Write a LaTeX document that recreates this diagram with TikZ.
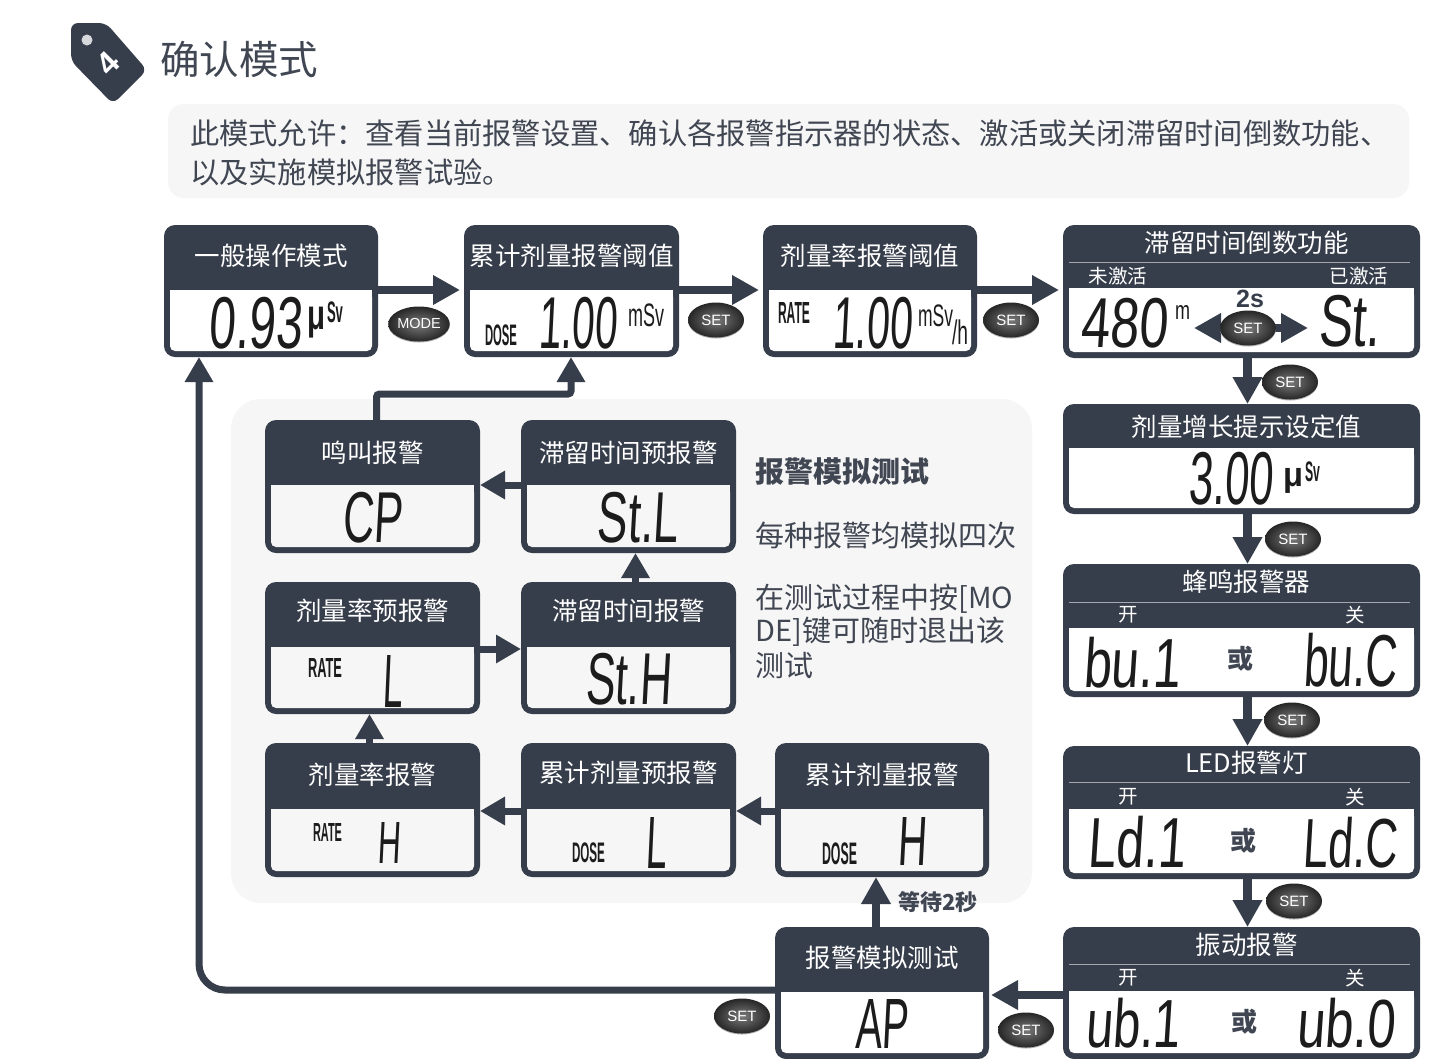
\documentclass[tikz,border=0pt]{standalone}
\usepackage{fontspec}
\usepackage{graphicx}
\usetikzlibrary{arrows.meta,shapes.geometric,calc}
\setmainfont{Noto Sans CJK SC}
\newfontfamily\latfont{Liberation Sans}
\newfontfamily\lcdfont[FakeSlant=0.09]{Liberation Sans}
\definecolor{dark}{HTML}{373E4B}
\definecolor{panel}{HTML}{F6F6F6}
\definecolor{ink}{HTML}{404652}
\definecolor{lcdink}{HTML}{1C1C1C}
\newcommand{\fs}[1]{\fontsize{#1}{#1}\selectfont}
\newcounter{lcdn}
\def\tshift{0}
\tikzset{
  cardbody/.style={fill=dark,draw=none,rounded corners=11pt,inner sep=0pt,outer sep=0pt},
  cardscreen/.style={draw=none,inner sep=0pt,outer sep=0pt},
  cardtitle/.style={text=white,inner sep=0pt,font=\fs{25.5}},
  sublabel/.style={text=white,inner sep=0pt,font=\fs{19.5}},
  orword/.style={text=ink,inner sep=0pt,font=\fs{26}\bfseries},
  sideword/.style={text=ink,inner sep=0pt,anchor=west,font=\fs{29}},
  arr/.style={draw=dark,line width=8.5pt,-{Triangle[length=27pt,width=28pt]},shorten >=4pt},
  arrthin/.style={draw=dark,line width=7pt,-{Triangle[length=25pt,width=27pt]}},
  btnshape/.style={ellipse,inner sep=0pt,minimum width=56pt,minimum height=35pt,
     inner color=black!52,outer color=black!85,text=white,
     preaction={fill=black!30,transform canvas={yshift=-1pt}}},
  sepline/.style={draw=white!55!dark,line width=1pt}
}
% name x0 x1 y0 split y1 title titley fill
\newcommand{\card}[9]{%
  \pgfmathsetmacro{\cw}{#3-#2}\pgfmathsetmacro{\ch}{#6-#4}%
  \pgfmathsetmacro{\cx}{(#2+#3)/2}\pgfmathsetmacro{\cy}{(#4+#6)/2}%
  \node[cardbody,minimum width=\cw pt,minimum height=\ch pt] (#1) at (\cx,\cy) {};%
  \pgfmathsetmacro{\sw}{\cw-12}\pgfmathsetmacro{\sh}{#6-6-#5}%
  \pgfmathsetmacro{\sy}{(#5+#6-6)/2}%
  \pgfmathsetmacro{\ax}{#2+6}\pgfmathsetmacro{\bx}{#3-6}\pgfmathsetmacro{\ty}{#5+2}\pgfmathsetmacro{\by}{#6-6}\pgfmathsetmacro{\my}{#6-14}%
  \pgfmathsetmacro{\tx}{\cx+\tshift}%
  \fill[#9,rounded corners=5pt] (\ax,\ty) rectangle (\bx,\by);%
  \fill[#9] (\ax,#5) rectangle (\bx,\my);%
  \node[cardscreen,minimum width=\sw pt,minimum height=\sh pt] (#1-scr) at (\cx,\sy) {};%
  \node[cardtitle] (#1-t) at (\tx,#8) {#7};%
}
% x0 x1 y0 y1 font text
\newcommand{\fit}[6]{%
  \stepcounter{lcdn}%
  \pgfmathsetmacro{\fw}{#2-#1}\pgfmathsetmacro{\fh}{#4-#3}%
  \pgfmathsetmacro{\fx}{(#1+#2)/2}\pgfmathsetmacro{\fy}{(#3+#4)/2}%
  \node[inner sep=0pt,text=lcdink] (lcd\arabic{lcdn}) at (\fx,\fy) {\resizebox*{\fw pt}{\fh pt}{#5#6}};%
}
\newcommand{\lcd}[5]{\fit{#1}{#2}{#3}{#4}{\lcdfont}{#5}}
\newcommand{\sml}[5]{\fit{#1}{#2}{#3}{#4}{\latfont\bfseries}{#5}}
\newcommand{\unit}[5]{\fit{#1}{#2}{#3}{#4}{\latfont}{#5}}
\newcommand{\btn}[4]{\node[btnshape] (#1) at (#2,#3) {\latfont\fs{15}#4};}
\begin{document}
\begin{tikzpicture}[x=1pt,y=-1pt]
\useasboundingbox (0,0) rectangle (1445,1058);
\fill[white] (0,0) rectangle (1445,1058);

% heading tag
\fill[dark,rounded corners=7pt] (71,23) -- (106,23) -- (147,70) -- (113,104) -- (71,61) -- cycle;
\fill[white!80!dark] (87,40) circle (5.5);
\node[text=white,inner sep=0pt,rotate=45,font=\latfont\bfseries\fs{32}] (tagnum) at (108,63) {4};
\node[text=ink,inner sep=0pt,anchor=west,font=\fs{39.5}] (head) at (160,59) {确认模式};

% description
\fill[panel,rounded corners=16pt] (168,104) rectangle (1409,198);
\node[text=ink,inner sep=0pt,anchor=west,font=\fs{29.25}] (desc1) at (190,133) {此模式允许：查看当前报警设置、确认各报警指示器的状态、激活或关闭滞留时间倒数功能、};
\node[text=ink,inner sep=0pt,anchor=west,font=\fs{29.25}] (desc2) at (190,172) {以及实施模拟报警试验。};

% alarm test panel
\fill[panel,rounded corners=30pt] (231,399) rectangle (1032,903);

% cards
\card{A}{164}{378}{225}{290}{357}{一般操作模式}{256}{white}
\card{B}{464}{679}{225}{290}{357}{累计剂量报警阈值}{256}{white}
\card{C}{763}{977}{225}{290}{357}{剂量率报警阈值}{256}{white}
\def\tshift{5}
\card{D}{1063}{1420}{225}{288}{358}{滞留时间倒数功能}{243}{white}
\card{E}{1063}{1420}{404}{448}{514}{剂量增长提示设定值}{427}{white}
\card{F}{1063}{1420}{564}{628}{697}{蜂鸣报警器}{582}{white}
\card{G}{1063}{1420}{746}{809}{879}{LED报警灯}{763}{white}
\card{H}{1063}{1420}{927}{991}{1059}{振动报警}{945}{white}
\def\tshift{0}
\card{AP}{775}{989}{927}{992}{1059}{报警模拟测试}{958}{white}
\card{CP}{265}{480}{420}{485}{553}{鸣叫报警}{453}{panel}
\card{StL}{521}{736}{420}{485}{553}{滞留时间预报警}{453}{panel}
\card{RL}{265}{480}{582}{647}{714}{剂量率预报警}{611}{panel}
\card{StH}{521}{736}{582}{647}{714}{滞留时间报警}{611}{panel}
\card{RH}{265}{480}{743}{809}{877}{剂量率报警}{775}{panel}
\card{DL}{521}{736}{743}{809}{877}{累计剂量预报警}{773}{panel}
\card{DH}{775}{989}{743}{809}{877}{累计剂量报警}{775}{panel}

% separators and sub labels
\foreach \yy in {262,602,782,964} \draw[sepline] (1069,\yy) -- (1410,\yy);
\node[sublabel] (d-off) at (1118,276) {未激活};
\node[sublabel] (d-on) at (1359,276) {已激活};
\node[sublabel] (f-on) at (1128,615) {开};
\node[sublabel] (f-off) at (1355,615) {关};
\node[sublabel] (g-on) at (1128,797) {开};
\node[sublabel] (g-off) at (1355,797) {关};
\node[sublabel] (h-on) at (1128,978) {开};
\node[sublabel] (h-off) at (1355,978) {关};

% displays
\lcd{209}{302}{297}{349}{0.93}
\sml{307}{325}{307}{338}{μ}
\sml{327}{343}{302}{323}{Sv}
\sml{485}{517}{325}{346}{DOSE}
\lcd{538}{617}{297}{349}{1.00}
\unit{628}{664}{304}{327}{mSv}
\sml{778}{810}{302}{323}{RATE}
\lcd{832}{912}{297}{349}{1.00}
\unit{918}{953}{305}{327}{mSv}
\unit{952}{968}{320}{345}{/h}
\lcd{1080}{1167}{298}{348}{480}
\unit{1175}{1190}{305}{319}{m}
\lcd{1318}{1380}{295}{347}{St.}
\lcd{1188}{1273}{452}{505}{3.00}
\sml{1283}{1303}{468}{493}{μ}
\sml{1305}{1320}{462}{482}{Sv}
\lcd{1083}{1180}{637}{688}{bu.1}
\lcd{1303}{1397}{633}{687}{bu.C}
\lcd{1087}{1185}{816}{868}{Ld.1}
\lcd{1302}{1397}{817}{868}{Ld.C}
\lcd{1085}{1180}{998}{1048}{ub.1}
\lcd{1296}{1395}{998}{1048}{ub.0}
\lcd{855}{908}{999}{1048}{AP}
\lcd{342}{402}{492}{543}{CP}
\lcd{597}{678}{492}{543}{St.L}
\sml{308}{342}{658}{677}{RATE}
\lcd{382}{402}{655}{707}{L}
\lcd{585}{671}{653}{705}{St.H}
\sml{313}{342}{823}{841}{RATE}
\lcd{377}{400}{822}{863}{H}
\sml{572}{605}{843}{863}{DOSE}
\lcd{645}{666}{817}{868}{L}
\sml{822}{857}{843}{865}{DOSE}
\lcd{897}{926}{817}{865}{H}

\node[orword] (or-f) at (1240,659) {或};
\node[orword] (or-g) at (1243,841) {或};
\node[orword] (or-h) at (1244,1022) {或};

% side text
\node[sideword,font=\fs{29}\bfseries] (s1) at (755,471) {报警模拟测试};
\node[sideword] (s2) at (755,535) {每种报警均模拟四次};
\node[sideword] (s3) at (755,599) {在测试过程中按[MO};
\node[sideword] (s4) at (755,632) {DE]键可随时退出该};
\node[sideword] (s5) at (755,666) {测试};
\node[text=ink,inner sep=0pt,anchor=west,font=\fs{22}\bfseries] (wait) at (898,902) {等待2秒};
\node[text=dark,inner sep=0pt,font=\latfont\bfseries\fs{25}] (twos) at (1250,299) {2s};

% connectors
\draw[arr] (A.east |- A-scr.north) -- (B.west |- B-scr.north);
\draw[arr] (B.east |- B-scr.north) -- (C.west |- C-scr.north);
\draw[arr] (C.east |- C-scr.north) -- (D.west |- C-scr.north);
\draw[arr,shorten >=0pt] ([xshift=6pt]D.south) -- ([xshift=6pt]E.north);
\draw[arr,shorten >=0pt] ([xshift=6pt]E.south) -- ([xshift=6pt]F.north);
\draw[arr,shorten >=0pt] ([xshift=6pt]F.south) -- ([xshift=6pt]G.north);
\draw[arr,shorten >=0pt] ([xshift=6pt]G.south) -- ([xshift=6pt]H.north);
\draw[arr,shorten >=2pt] ([yshift=-4pt]H.west |- H-scr.north) -- ([yshift=-4pt]AP.east |- H-scr.north);
\draw[arr,shorten >=0pt] ([xshift=-6pt]AP.north) -- ([xshift=-6pt]DH.south);
\draw[arrthin] ([yshift=-2pt]DH.west |- DH-scr.north) -- ([yshift=-2pt]DL.east |- DL-scr.north);
\draw[arrthin] ([yshift=-2pt]DL.west |- DL-scr.north) -- ([yshift=-2pt]RH.east |- RH-scr.north);
\draw[arrthin] ([xshift=-3pt]RH.north) -- ([xshift=-3pt]RL.south);
\draw[arrthin] ([yshift=-2pt]RL.east |- RL-scr.north) -- ([yshift=-2pt]StH.west |- StH-scr.north);
\draw[arrthin] ([xshift=7pt]StH.north) -- ([xshift=7pt]StL.south);
\draw[arrthin] (StL.west |- StL-scr.north) -- (CP.east |- CP-scr.north);
\coordinate (cpelbow) at (571,394);
\draw[arrthin,rounded corners=3pt] ([xshift=4pt]CP.north) |- (cpelbow) -- (cpelbow |- B.south);
\coordinate (ret) at (199,990);
\draw[arrthin,rounded corners=26pt] (AP.west |- ret) -- (ret) -- (ret |- A.south);

% double arrow in the countdown card
\coordinate (dc) at (1248,328);
\coordinate (dl) at (1194,328);
\coordinate (dr) at (1308,328);
\draw[arr,shorten >=0pt] (dc) -- (dl);
\draw[arr,shorten >=0pt] (dc) -- (dr);

% buttons
\btn{bM}{419}{324}{\fs{14.5}MODE}
\btn{b1}{716}{320}{SET}
\btn{b2}{1011}{320}{SET}
\btn{bD}{1248}{328}{SET}
\btn{b3}{1290}{382}{SET}
\btn{b4}{1293}{539}{SET}
\btn{b5}{1292}{720}{SET}
\btn{b6}{1294}{901}{SET}
\btn{b7}{1026}{1030}{SET}
\btn{b8}{742}{1016}{SET}
\end{tikzpicture}
\end{document}
